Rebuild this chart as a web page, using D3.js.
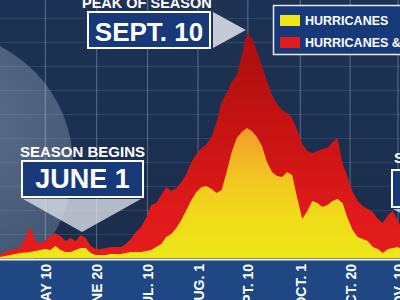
<!DOCTYPE html>
<html>
<head>
<meta charset="utf-8">
<script src="https://cdn.jsdelivr.net/npm/d3@7"></script>
<style>
  html, body { margin: 0; padding: 0; background: #1b2f4f; overflow: hidden; }
  svg { display: block; }
  text { font-family: "Liberation Sans", Arial, sans-serif; font-weight: bold; fill: #fff; }
</style>
</head>
<body>
<svg id="chart" width="400" height="300"></svg>
<script>
// ---- data (sample index along the season, activity level) ----
const sampleDays = d3.range(0, 81); // sample positions along the season
const tsAndHurricanes = [1.3, 2.5, 3.3, 3.8, 4.6, 8.3, 12.9, 7.5, 5.8, 7.5,
  9.2, 10.4, 9.2, 7.1, 8.3, 7.1, 9.6, 8.3, 5.0, 3.8,
  3.8, 4.2, 4.6, 4.6, 4.6, 5.8, 7.9, 10.8, 12.9, 16.7,
  22.1, 22.9, 26.3, 29.6, 27.9, 29.2, 31.7, 35.0, 40.0, 43.3,
  45.8, 47.5, 50.4, 56.7, 65.0, 68.8, 73.3, 76.3, 84.6, 93.8,
  91.7, 86.3, 80.0, 73.8, 67.9, 64.2, 61.7, 60.4, 58.3, 53.3,
  47.5, 44.6, 43.8, 44.6, 45.4, 45.8, 48.3, 50.0, 39.6, 33.8,
  27.5, 23.8, 21.7, 20.4, 19.2, 16.3, 14.6, 17.9, 19.6, 15.4, 11.7];
const hurricanes = [0.4, 0.8, 1.3, 1.7, 2.1, 2.3, 2.5, 2.9, 3.3, 3.8,
  3.3, 5.0, 3.3, 2.5, 2.5, 3.3, 4.2, 4.2, 2.1, 1.3,
  1.3, 1.3, 1.7, 1.7, 1.7, 2.1, 2.5, 2.5, 2.5, 2.9,
  3.3, 4.6, 5.8, 8.8, 10.0, 12.5, 15.8, 20.0, 24.2, 27.5,
  29.6, 30.0, 28.8, 27.1, 28.3, 35.8, 44.2, 50.0, 52.5, 54.2,
  52.9, 50.4, 46.7, 40.0, 35.8, 34.2, 33.8, 35.8, 34.6, 25.0,
  16.3, 19.6, 23.8, 22.9, 21.3, 22.1, 23.8, 24.6, 22.9, 16.7,
  11.7, 8.8, 7.9, 7.1, 4.6, 3.8, 2.1, 3.8, 4.2, 4.6, 3.3];
const tickDays = [9, 19.2, 29.3, 39.3, 49.2, 59.6, 69.5, 79];
const tickLabels = ["MAY 10", "JUNE 20", "JUL. 10", "AUG. 1", "SEPT. 10", "OCT. 1", "OCT. 20", "NOV. 10"];
const gridLevels = [10, 20, 30, 40, 50, 60, 70, 80, 90, 100];
const legendLabels = ["HURRICANES", "HURRICANES & TROPICAL STORMS"];
const legendColors = ["#f0e418", "#e01c1c"];

const W = 400, H = 300, baseY = 258;
const svg = d3.select("#chart");
const x = d3.scaleLinear().domain([0, 80]).range([0, 403]);
const y = d3.scaleLinear().domain([0, 100]).range([baseY, 18]);

const defs = svg.append("defs");
const bg = defs.append("linearGradient").attr("id", "bg").attr("x1", 0).attr("y1", 0).attr("x2", 0).attr("y2", 1);
bg.append("stop").attr("offset", 0).attr("stop-color", "#1d3254");
bg.append("stop").attr("offset", 1).attr("stop-color", "#1a2c4b");
const cg = defs.append("radialGradient").attr("id", "globe").attr("cx", 0.55).attr("cy", 0.35).attr("r", 0.7);
cg.append("stop").attr("offset", 0).attr("stop-color", "#8797ad").attr("stop-opacity", 0.62);
cg.append("stop").attr("offset", 1).attr("stop-color", "#6f84a0").attr("stop-opacity", 0.42);
const rg = defs.append("linearGradient").attr("id", "redg").attr("gradientUnits", "userSpaceOnUse")
  .attr("x1", 0).attr("y1", y(95)).attr("x2", 0).attr("y2", baseY);
rg.append("stop").attr("offset", 0).attr("stop-color", "#a90f0f");
rg.append("stop").attr("offset", 0.45).attr("stop-color", "#c81313");
rg.append("stop").attr("offset", 0.8).attr("stop-color", "#df1a1a");
rg.append("stop").attr("offset", 1).attr("stop-color", "#e61c1c");
const yg = defs.append("linearGradient").attr("id", "yelg").attr("gradientUnits", "userSpaceOnUse")
  .attr("x1", 0).attr("y1", y(55)).attr("x2", 0).attr("y2", baseY);
yg.append("stop").attr("offset", 0).attr("stop-color", "#f09a26");
yg.append("stop").attr("offset", 0.35).attr("stop-color", "#f3c222");
yg.append("stop").attr("offset", 0.7).attr("stop-color", "#f0dc1a");
yg.append("stop").attr("offset", 1).attr("stop-color", "#eee61a");

// background
svg.append("rect").attr("width", W).attr("height", H).attr("fill", "url(#bg)");
svg.append("circle").attr("cx", -60).attr("cy", 165).attr("r", 133).attr("fill", "url(#globe)");

// grid
svg.append("g").selectAll("line").data(gridLevels).join("line")
  .attr("x1", 0).attr("x2", W).attr("y1", d => y(d) + 0.5).attr("y2", d => y(d) + 0.5)
  .attr("stroke", "#9fb0c8").attr("stroke-opacity", 0.16);
svg.append("g").selectAll("line").data(tickDays).join("line")
  .attr("x1", d => x(d)).attr("x2", d => x(d)).attr("y1", 0).attr("y2", baseY)
  .attr("stroke", "#c9d3e2").attr("stroke-opacity", 0.38);

// areas
const area = vals => d3.area().x((d, i) => x(sampleDays[i])).y0(y(0)).y1(d => y(d))(vals);
svg.append("path").attr("d", area(tsAndHurricanes)).attr("fill", "url(#redg)");
svg.append("path").attr("d", area(hurricanes)).attr("fill", "url(#yelg)");

// axis band
svg.append("rect").attr("x", 0).attr("y", baseY + 1).attr("width", W).attr("height", H - baseY)
  .attr("fill", "#1e4784");
svg.append("line").attr("x1", 0).attr("x2", W).attr("y1", baseY + 1.5).attr("y2", baseY + 1.5)
  .attr("stroke", "#f2efd2").attr("stroke-width", 2);
const xAxis = d3.axisBottom(x).tickValues(tickDays).tickFormat((d, i) => tickLabels[i]).tickSize(0);
const ax = svg.append("g").attr("transform", `translate(0,${baseY + 6})`).call(xAxis);
ax.select(".domain").remove();
ax.selectAll("text")
  .attr("transform", "rotate(-90)").attr("text-anchor", "end")
  .attr("x", 0).attr("y", 0).attr("dy", "0.36em")
  .style("font-size", "14px").style("font-family", "'Liberation Sans', Arial, sans-serif")
  .style("font-weight", "bold").attr("fill", "#fff");

// annotations
function callout(g, bx, by, bw, bh, label, fs, ty) {
  g.append("rect").attr("x", bx).attr("y", by).attr("width", bw).attr("height", bh)
    .attr("fill", "#17397a").attr("stroke", "#fff").attr("stroke-width", 2);
  g.append("text").attr("x", bx + bw / 2).attr("y", ty).attr("text-anchor", "middle")
    .style("font-size", fs + "px").text(label);
}
const ann = svg.append("g");
// Peak of season
ann.append("text").attr("x", 82).attr("y", 7.5).style("font-size", "14.5px").text("PEAK OF SEASON");
callout(ann, 88, 12, 122, 36, "SEPT. 10", 26, 41);
ann.append("path").attr("d", `M213,12 L213,48 L${x(49.2) - 2},30 Z`).attr("fill", "#d7dce4").attr("fill-opacity", 0.9);
// Season begins
ann.append("text").attr("x", 20).attr("y", 157).style("font-size", "15px").text("SEASON BEGINS");
callout(ann, 22, 161, 121, 36, "JUNE 1", 27, 188);
ann.append("path").attr("d", "M23,199 L141,199 L82,232 Z").attr("fill", "#dfe3ea").attr("fill-opacity", 0.78);
// Season ends (cut off)
ann.append("text").attr("x", 394).attr("y", 163).style("font-size", "15px").text("SEASON ENDS");
callout(ann, 392, 170, 120, 37, "NOV. 30", 27, 197);
ann.append("path").attr("d", "M393,209 L511,209 L452,240 Z").attr("fill", "#dfe3ea").attr("fill-opacity", 0.78);

// legend
const lg = svg.append("g");
lg.append("rect").attr("x", 273.5).attr("y", 5.5).attr("width", 200).attr("height", 49)
  .attr("fill", "#17397a").attr("stroke", "#e8ecf3").attr("stroke-width", 1.5);
lg.selectAll("rect.sw").data(legendColors).join("rect").attr("class", "sw")
  .attr("x", 280).attr("y", (d, i) => 15 + i * 22).attr("width", 20).attr("height", 11).attr("fill", d => d);
lg.selectAll("text").data(legendLabels).join("text")
  .attr("x", 305).attr("y", (d, i) => 25 + i * 22).style("font-size", "12.5px").text(d => d);
</script>
</body>
</html>
